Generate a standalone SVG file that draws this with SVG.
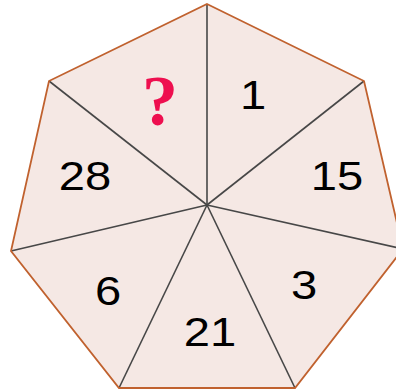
<svg xmlns="http://www.w3.org/2000/svg" width="396" height="389" viewBox="0 0 396 389">
<style>
.sec{fill:#f5e8e4;stroke:none}
.spoke{stroke:#474747;stroke-width:1.6}
.edge{fill:none;stroke:#c0612e;stroke-width:1.8;stroke-linejoin:miter}
.num{font-family:"Liberation Sans",Arial,sans-serif;font-size:41px;fill:#000;text-anchor:middle}
.q{font-family:"Liberation Serif","Times New Roman",serif;font-weight:bold;font-size:72px;fill:#ee0f4f;text-anchor:middle}
</style>
<rect width="396" height="389" fill="#ffffff"/>
<g id="heptagon">
<polygon class="sec" points="207,4 364,81 403,249 295,388 119,388 11,251 49,81"/>
</g>
<g id="connectors">
<line class="spoke" x1="207" y1="205" x2="207" y2="4"/>
<line class="spoke" x1="207" y1="205" x2="364" y2="81"/>
<line class="spoke" x1="207" y1="205" x2="403" y2="249"/>
<line class="spoke" x1="207" y1="205" x2="295" y2="388"/>
<line class="spoke" x1="207" y1="205" x2="119" y2="388"/>
<line class="spoke" x1="207" y1="205" x2="11" y2="251"/>
<line class="spoke" x1="207" y1="205" x2="49" y2="81"/>
</g>
<g id="border">
<polygon class="edge" points="207,4 364,81 403,249 295,388 119,388 11,251 49,81"/>
</g>
<g id="label-q"><text class="q" x="160" y="125">?</text></g>
<g id="label-1"><text class="num" transform="translate(253,109) scale(1.15,1)">1</text></g>
<g id="label-15"><text class="num" transform="translate(337,190) scale(1.15,1)">15</text></g>
<g id="label-3"><text class="num" transform="translate(304,299) scale(1.15,1)">3</text></g>
<g id="label-21"><text class="num" transform="translate(210,346) scale(1.15,1)">21</text></g>
<g id="label-6"><text class="num" transform="translate(108,305) scale(1.15,1)">6</text></g>
<g id="label-28"><text class="num" transform="translate(85,190) scale(1.15,1)">28</text></g>
</svg>
